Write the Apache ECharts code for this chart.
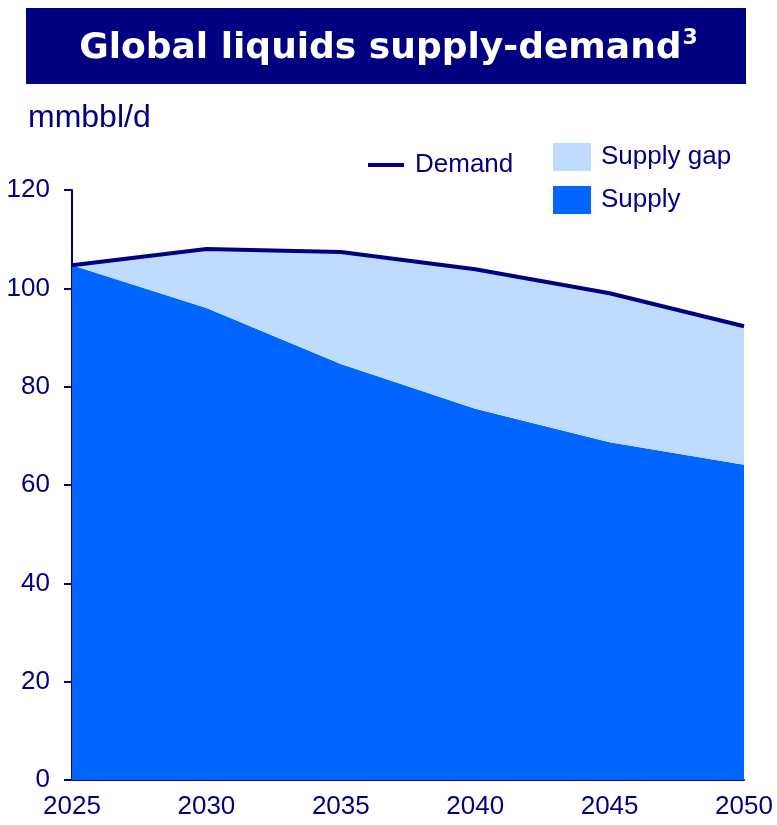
<!DOCTYPE html>
<html><head><meta charset="utf-8">
<script src="https://cdn.jsdelivr.net/npm/echarts@6/dist/echarts.min.js"></script>
<style>html,body{margin:0;padding:0;background:#fff}#c{width:777px;height:825px}</style>
</head><body><div id="c"></div>
<script>
const years = ['2025','2030','2035','2040','2045','2050'];
const demand = [104.7, 108.0, 107.4, 103.9, 99.0, 92.3];
const supply = [104.7, 96.0, 84.6, 75.5, 68.7, 64.1];
const yTicks = [0, 20, 40, 60, 80, 100, 120];
const gap = demand.map((d, i) => +(d - supply[i]).toFixed(2));

const navy = '#000080';
const font = 'Liberation Sans, Arial, sans-serif';
const chart = echarts.init(document.getElementById('c'), null, {renderer: 'canvas'});
chart.setOption({
  animation: false,
  backgroundColor: '#fff',
  graphic: [
    {type: 'rect', shape: {x: 26, y: 8, width: 720, height: 76}, style: {fill: navy}, z: 0},
    {type: 'text', left: 'center', top: 27, z: 1,
     style: {text: '{t|Global liquids supply-demand}{s|3}', rich: {
       t: {fontFamily: 'DejaVu Sans, sans-serif', fontWeight: 'bold', fontSize: 36, fill: '#fff', lineHeight: 44},
       s: {fontFamily: 'DejaVu Sans, sans-serif', fontWeight: 'bold', fontSize: 22, fill: '#fff', verticalAlign: 'top', lineHeight: 44, padding: [0,0,15,1]}
     }}},
    {type: 'text', left: 28, top: 102, style: {text: 'mmbbl/d', fontFamily: font, fontSize: 32, fill: navy}}
  ],
  legend: [
    {data: ['Demand'], left: 363, top: 147, itemWidth: 36, itemHeight: 4, icon: 'rect',
     textStyle: {fontFamily: font, fontSize: 26, color: navy, padding: [0,0,0,6]}},
    {data: ['Supply gap', 'Supply'], orient: 'vertical', left: 548, top: 138, itemWidth: 38, itemHeight: 28,
     itemGap: 15, icon: 'rect', textStyle: {fontFamily: font, fontSize: 26, color: navy, padding: [2,0,0,5]}}
  ],
  grid: {left: 72, right: 33, top: 190, bottom: 45, containLabel: false},
  xAxis: {
    type: 'category', data: years, boundaryGap: false,
    axisLine: {lineStyle: {color: navy, width: 2}},
    axisTick: {show: false},
    axisLabel: {fontFamily: font, fontSize: 26, color: navy, margin: 14}
  },
  yAxis: {
    type: 'value', min: 0, max: 120, interval: 20,
    axisLine: {show: true, lineStyle: {color: navy, width: 2}},
    axisTick: {show: true, length: 8, lineStyle: {color: navy, width: 2}},
    splitLine: {show: false},
    axisLabel: {fontFamily: font, fontSize: 26, color: navy, margin: 22,
      formatter: v => yTicks.includes(v) ? String(v) : ''}
  },
  series: [
    {name: 'Supply', type: 'line', stack: 's', data: supply, symbol: 'none',
     lineStyle: {width: 0}, areaStyle: {color: '#0066FF', opacity: 1}, itemStyle: {color: '#0066FF'}, z: 2},
    {name: 'Supply gap', type: 'line', stack: 's', data: gap, symbol: 'none',
     lineStyle: {width: 0}, areaStyle: {color: '#BFDBFF', opacity: 1}, itemStyle: {color: '#BFDBFF'}, z: 2},
    {name: 'Demand', type: 'line', data: demand, symbol: 'none',
     lineStyle: {color: navy, width: 4}, itemStyle: {color: navy}, z: 3}
  ]
});
</script></body></html>
